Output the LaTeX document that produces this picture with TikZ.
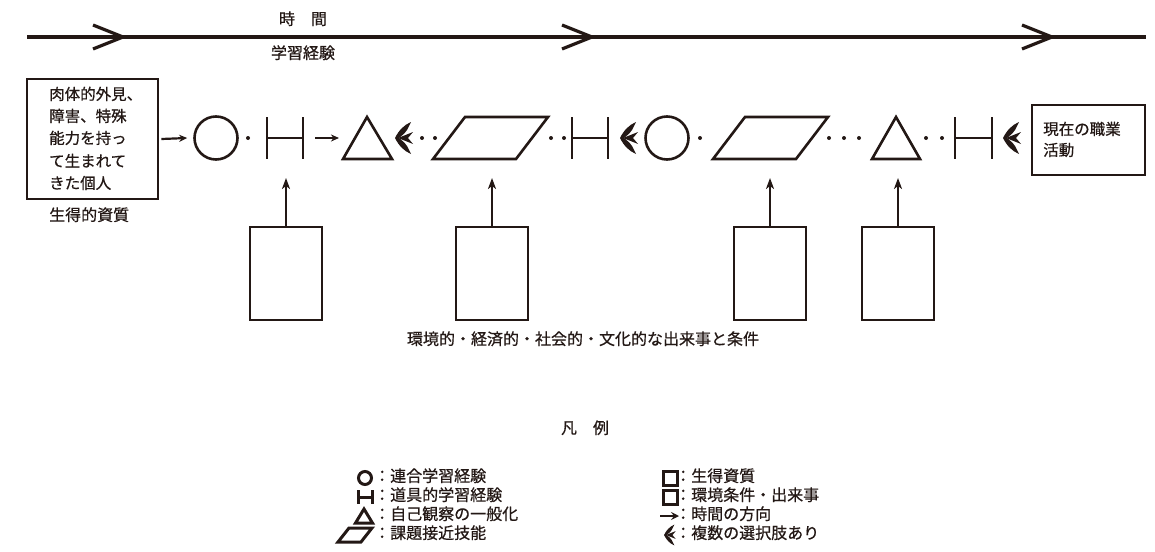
\documentclass[tikz,border=0pt]{standalone}
\usepackage{fontspec}
\setmainfont{Noto Sans CJK JP}[FakeBold=0.6]
\usetikzlibrary{arrows.meta}
\definecolor{ink}{RGB}{35,24,21}
\begin{document}
\begin{tikzpicture}[x=1pt,y=-1pt,
  every node/.style={text=ink},
  txt/.style={inner sep=0pt, text height=0.88em, text depth=0.12em, font=\fontsize{16}{19}\selectfont},
  boxtxt/.style={txt, anchor=west, font=\fontsize{15.5}{19}\selectfont},
  frame/.style={draw=ink, line width=2.9pt, inner sep=0pt},
  sym/.style={draw=ink, line width=2.6pt, line join=miter},
  lsym/.style={draw=ink, line width=3pt, line join=miter},
  arr/.style={draw=ink, line width=2.2pt, -{Stealth[length=8pt,width=7pt,inset=2.5pt]}},
  uparr/.style={draw=ink, line width=2.4pt, -{Stealth[length=11pt,width=8pt,inset=3pt]}},
  dotpt/.style={fill=ink},
  chev/.pic={\draw[ink, line width=3.2pt, line join=miter] (-30,-12) -- (0,0) -- (-30,12);},
  choice/.pic={
    \fill[ink] (0,0) .. controls (4,-8) and (9,-13) .. (16,-16) -- (12,-8) .. controls (10,-5) .. (4,0) -- cycle;
    \fill[ink] (3,0) -- (18,-6) -- (13,0) -- (18,6) -- cycle;
    \fill[ink] (0,0) .. controls (4,8) and (9,13) .. (16,16) -- (12,8) .. controls (10,5) .. (4,0) -- cycle;
  }
]
\useasboundingbox (0,0) rectangle (1155,551);

% --- time line ---
\coordinate (ta) at (27,37);
\coordinate (tb) at (1146,37);
\draw[ink, line width=3.2pt] (ta) -- (tb);
\pic at (123,37) {chev};
\pic at (592,37) {chev};
\pic at (1052,37) {chev};
\node[txt] (time) at (303,21) {時　間};
\node[txt] (exp) at (303,55) {学習経験};

% --- left box ---
\node[frame, minimum width=131, minimum height=120] (lbox) at (92.5,139) {};
\node[boxtxt] (lt1) at (49,96) {肉体的外見、};
\node[boxtxt] (lt2) at (49,118) {障害、特殊};
\node[boxtxt] (lt3) at (49,140) {能力を持っ};
\node[boxtxt] (lt4) at (49,163) {て生まれて};
\node[boxtxt] (lt5) at (49,185) {きた個人};
\node[txt, anchor=west] (innate) at (49,217) {生得的資質};

% --- right box ---
\node[frame, minimum width=113, minimum height=70] (rbox) at (1088.5,140) {};
\node[boxtxt] (rt1) at (1043,131) {現在の職業};
\node[boxtxt] (rt2) at (1043,152) {活動};

% --- main row ---
\node[sym, circle, minimum size=43, inner sep=0pt] (c1) at (216,138) {};
\fill[dotpt] (248,138) circle (2);
% H1
\draw[sym] (267,117) -- (267,159) (303,117) -- (303,159) (267,138) -- (303,138);
\coordinate (h1e) at (303,138);
\coordinate (h1s) at (285,178);
% triangle 1
\draw[sym] (367,117) -- (392,159) -- (343,159) -- cycle;
\coordinate (t1w) at (343,138);
\pic at (395,138) {choice};
\fill[dotpt] (422,138) circle (2) (435,138) circle (2);
% parallelogram 1
\draw[sym] (433,159) -- (465,117) -- (548,117) -- (516,159) -- cycle;
\coordinate (p1s) at (490,178);
\fill[dotpt] (551,138) circle (2) (564,138) circle (2);
% H2
\draw[sym] (572,117) -- (572,159) (608,117) -- (608,159) (572,138) -- (608,138);
\pic at (620,138) {choice};
\node[sym, circle, minimum size=43, inner sep=0pt] (c2) at (667,138) {};
\fill[dotpt] (700,138) circle (2);
% parallelogram 2
\draw[sym] (713,159) -- (745,117) -- (828,117) -- (796,159) -- cycle;
\coordinate (p2s) at (770,178);
\fill[dotpt] (829,138) circle (2) (844,138) circle (2) (859,138) circle (2);
% triangle 2
\draw[sym] (896,117) -- (920,159) -- (872,159) -- cycle;
\coordinate (t2s) at (897,178);
\fill[dotpt] (926,138) circle (2) (942,138) circle (2);
% H3
\draw[sym] (955,117) -- (955,159) (992,117) -- (992,159) (955,138) -- (992,138);
\pic at (1003,138) {choice};

% arrows in row
\draw[arr] ([xshift=2pt]lbox.east) -- ([xshift=-6pt]c1.west);
\draw[arr] ([xshift=12pt]h1e) -- ([xshift=-4pt]t1w);

% --- lower boxes ---
\node[frame, minimum width=72, minimum height=93] (b1) at (286,273.5) {};
\node[frame, minimum width=72, minimum height=93] (b2) at (492,273.5) {};
\node[frame, minimum width=72, minimum height=93] (b3) at (770,273.5) {};
\node[frame, minimum width=72, minimum height=93] (b4) at (898,273.5) {};
\draw[uparr] (b1.north) -- (b1.north |- h1s);
\draw[uparr] (b2.north) -- (b2.north |- p1s);
\draw[uparr] (b3.north) -- (b3.north |- p2s);
\draw[uparr] (b4.north) -- (b4.north |- t2s);
\node[txt] (env) at (583,341) {環境的・経済的・社会的・文化的な出来事と条件};

% --- legend ---
\node[txt] (lgt) at (585,430) {凡　例};
\draw[lsym] (365,478) circle (6.5);
\node[txt, anchor=west] (l1) at (374,478) {：連合学習経験};
\draw[lsym] (358,490) -- (358,504) (372,490) -- (372,504) (358,497) -- (372,497);
\node[txt, anchor=west] (l2) at (374,497) {：道具的学習経験};
\draw[lsym] (364,509) -- (372.5,523) -- (355.5,523) -- cycle;
\node[txt, anchor=west] (l3) at (374,516) {：自己観察の一般化};
\draw[lsym] (338,542) -- (349,528) -- (372,528) -- (361,542) -- cycle;
\node[txt, anchor=west] (l4) at (374,535) {：課題接近技能};

\draw[lsym] (663,471) rectangle (677,485);
\node[txt, anchor=west] (r1) at (675,478) {：生得資質};
\draw[lsym] (663,490) rectangle (677,504);
\node[txt, anchor=west] (r2) at (675,497) {：環境条件・出来事};
\coordinate (la) at (660,516);
\coordinate (lb) at (679,516);
\draw[draw=ink, line width=1.8pt, -{Stealth[length=8pt,width=8pt,inset=3pt]}] (la) -- (lb);
\node[txt, anchor=west] (r3) at (675,516) {：時間の方向};
\pic[scale=0.65] at (664,535) {choice};
\node[txt, anchor=west] (r4) at (675,535) {：複数の選択肢あり};
\end{tikzpicture}
\end{document}
